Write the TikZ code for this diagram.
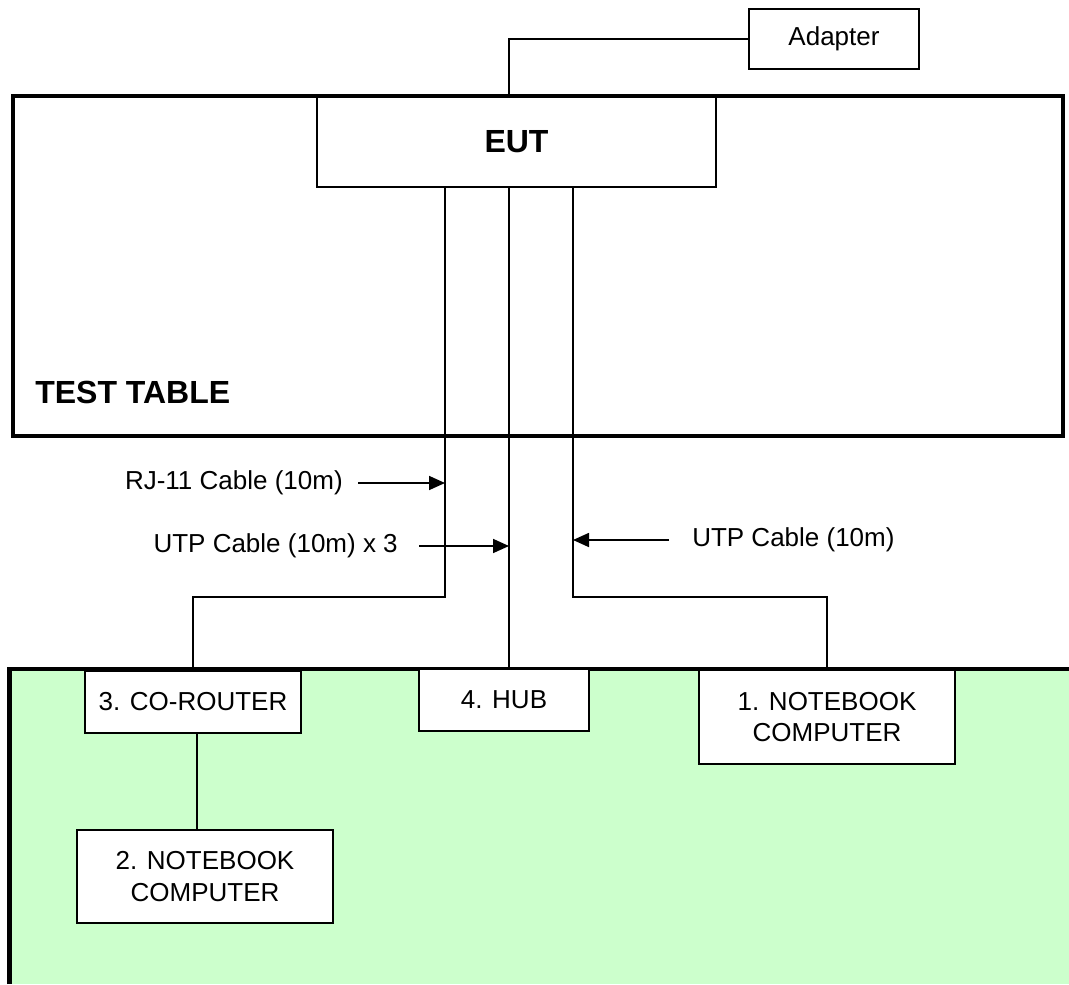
\documentclass[tikz,border=0pt]{standalone}
\usepackage{fontspec}
\setmainfont{Liberation Sans}
\usetikzlibrary{arrows.meta}
\definecolor{tablegreen}{HTML}{CCFFCC}
\begin{document}
\begin{tikzpicture}[x=0.75pt,y=-0.75pt,
  box/.style={draw=black,line width=1.5pt,fill=white,inner sep=0pt,align=center,
    font=\fontsize{19.5}{23.5}\selectfont},
  wire/.style={line width=1.2pt},
  arr/.style={line width=1.3pt,-{Triangle[length=12pt,width=10.5pt]}},
  lbl/.style={inner sep=0pt,font=\fontsize{19.5}{23.5}\selectfont},
  bigbold/.style={inner sep=0pt,font=\fontsize{24}{28}\selectfont\bfseries}]
\useasboundingbox (0,0) rectangle (1069,984);
\fill[white] (0,0) rectangle (1069,984);

% green floor area
\fill[tablegreen] (9,669) rectangle (1069,984);
\draw[line width=3.4pt] (9.5,984) -- (9.5,669) -- (1069,669);

% test table
\node[draw=black,line width=3.4pt,minimum width=787.5pt,minimum height=255pt,inner sep=0pt] (table) at (538,266) {};
\node[bigbold,anchor=base west] (tabletxt) at (35,403) {TEST TABLE};

% devices
\node[box,minimum width=127.5pt,minimum height=45pt] (adapter) at (834,39) {Adapter};
\node[box,minimum width=299.25pt,minimum height=67.5pt,font=\fontsize{24}{28}\selectfont\bfseries] (eut) at (516.5,142) {EUT};
\node[box,minimum width=162pt,minimum height=46.5pt] (corouter) at (193,702) {3. CO-ROUTER};
\node[box,minimum width=127.5pt,minimum height=46.5pt] (hub) at (504,700) {4. HUB};
\node[box,minimum width=192pt,minimum height=70.5pt] (nb1) at (827,717) {1. NOTEBOOK\\COMPUTER};
\node[box,minimum width=192pt,minimum height=69.75pt] (nb2) at (205,876.5) {2. NOTEBOOK\\COMPUTER};

% cable routing coordinates
\coordinate (xa) at (509,0);
\coordinate (c1) at (445,597);
\coordinate (c3) at (573,597);
\coordinate (xr) at (197,0);

% cables
\draw[wire] (adapter.west) -| (xa |- eut.north);
\draw[wire] (eut.south -| c1) -- (c1) -| (corouter.north);
\draw[wire] (eut.south -| xa) -- (xa |- hub.north);
\draw[wire] (eut.south -| c3) -- (c3) -| (nb1.north);
\draw[wire] (xr |- corouter.south) -- (xr |- nb2.north);

% cable labels
\coordinate (a1) at (358,483);
\coordinate (a2) at (419,546);
\coordinate (a3) at (669,540);
\node[lbl,anchor=east] (l1) at (343,483) {RJ-11 Cable (10m)};
\node[lbl,anchor=east] (l2) at (398,546) {UTP Cable (10m) x 3};
\node[lbl,anchor=west] (l3) at (692,540) {UTP Cable (10m)};
\draw[arr] (a1) -- (c1 |- a1);
\draw[arr] (a2) -- (xa |- a2);
\draw[arr] (a3) -- (c3 |- a3);
\end{tikzpicture}
\end{document}
